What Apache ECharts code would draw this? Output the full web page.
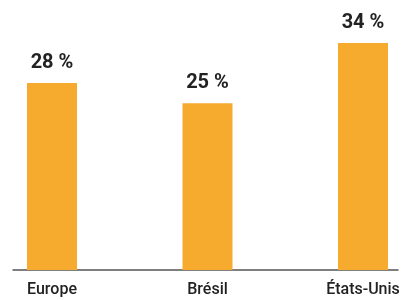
<!DOCTYPE html>
<html>
<head>
<meta charset="utf-8">
<script src="https://cdn.jsdelivr.net/npm/echarts@6/dist/echarts.min.js"></script>
<style>
  html, body { margin: 0; padding: 0; background: #fff; }
  #chart { width: 406px; height: 300px; }
</style>
</head>
<body>
<div id="chart"></div>
<script>
// categories et valeurs (%)
const categories = ["Europe", "Brésil", "États-Unis"];
const values = [28, 25, 34];

const chart = echarts.init(document.getElementById("chart"));

const option = {
  animation: false,
  grid: [
    { left: 52, right: 43, top: 3, bottom: 30 },
    { left: 13, right: 8, top: 3, bottom: 30 }
  ],
  xAxis: [
    {
      type: "category",
      gridIndex: 0,
      data: categories,
      boundaryGap: false,
      axisLine: { show: false },
      axisTick: { show: false },
      axisLabel: {
        margin: 12,
        color: "#222",
        fontSize: 16,
        fontWeight: 500,
        fontFamily: "Roboto"
      }
    },
    {
      type: "value",
      gridIndex: 1,
      min: 0,
      max: 1,
      axisLine: { show: true, lineStyle: { color: "#555", width: 1.5 } },
      axisTick: { show: false },
      axisLabel: { show: false },
      splitLine: { show: false }
    }
  ],
  yAxis: [
    { type: "value", gridIndex: 0, min: 0, max: 40, show: false },
    { type: "value", gridIndex: 1, min: 0, max: 40, show: false }
  ],
  series: [
    {
      type: "bar",
      xAxisIndex: 0,
      yAxisIndex: 0,
      data: values,
      barWidth: 50,
      itemStyle: { color: "#F6AB2F" },
      label: {
        show: true,
        position: "top",
        distance: 10,
        formatter: "{c} %",
        color: "#222",
        fontSize: 20,
        fontWeight: "bold",
        fontFamily: "Roboto"
      }
    }
  ]
};

chart.setOption(option);
</script>
</body>
</html>
